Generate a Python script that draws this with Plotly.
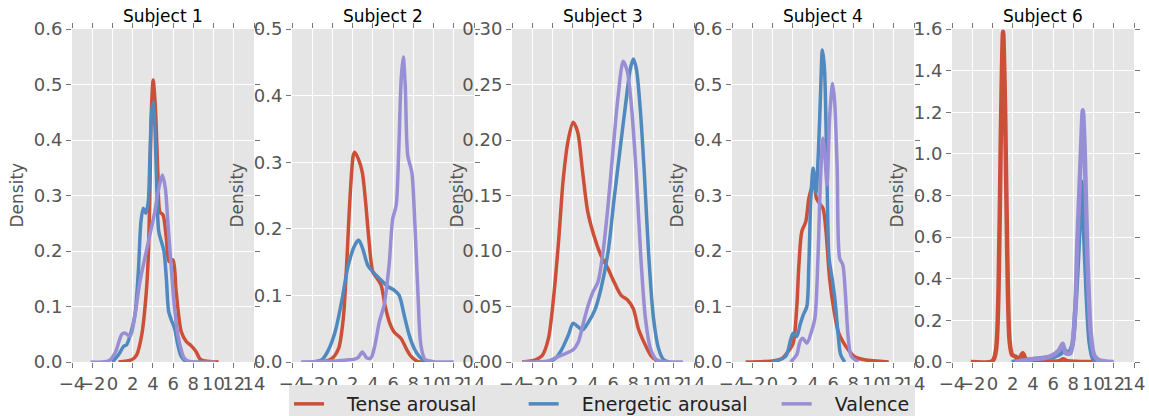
import plotly.graph_objects as go

# ---------------- data ----------------
subjects = ["Subject 1", "Subject 2", "Subject 3", "Subject 4", "Subject 6"]
series_names = ["Tense arousal", "Energetic arousal", "Valence"]
series_colors = ["#CC4F38", "#4F89BF", "#988ED5"]

x_tick_vals = [-4, -2, 0, 2, 4, 6, 8, 10, 12, 14]
x_tick_text = ["\u22124", "\u22122", "0", "2", "4", "6", "8", "10", "12", "14"]

y_max = [0.6, 0.5, 0.30, 0.6, 1.6]
y_step = [0.1, 0.1, 0.05, 0.1, 0.2]
y_fmt = [".1f", ".1f", ".2f", ".1f", ".1f"]

# Subject 1
s1_tense_x = [0.6, 1.9, 2.4, 2.9, 3.3, 3.54, 3.7, 3.86, 4.03, 4.25, 4.5, 4.7, 5.0, 5.33, 5.6, 5.98, 6.3, 6.8, 7.3, 7.8, 8.26, 8.75, 10.5]
s1_tense_y = [0, 0.004, 0.013, 0.049, 0.115, 0.187, 0.307, 0.457, 0.508, 0.457, 0.337, 0.27, 0.265, 0.223, 0.181, 0.184, 0.127, 0.055, 0.037, 0.029, 0.019, 0.004, 0]
s1_energetic_x = [0.0, 0.6, 1.1, 1.4, 1.9, 2.23, 2.56, 2.82, 3.05, 3.3, 3.54, 3.7, 3.86, 4.03, 4.19, 4.35, 4.58, 4.84, 5.1, 5.33, 5.56, 5.82, 6.14, 6.47, 6.8, 7.3, 8.8]
s1_energetic_y = [0, 0.013, 0.028, 0.031, 0.058, 0.085, 0.163, 0.253, 0.277, 0.268, 0.289, 0.367, 0.445, 0.469, 0.427, 0.337, 0.235, 0.217, 0.199, 0.151, 0.091, 0.076, 0.061, 0.031, 0.01, 0.001, 0]
s1_valence_x = [-2.16, -0.37, 0.26, 0.93, 1.26, 1.75, 2.23, 2.72, 3.2, 3.7, 4.19, 4.58, 4.94, 5.23, 5.5, 5.82, 6.14, 6.47, 6.8, 7.1, 7.6, 10.2]
s1_valence_y = [0, 0.002, 0.016, 0.05, 0.052, 0.046, 0.085, 0.145, 0.187, 0.229, 0.271, 0.313, 0.337, 0.313, 0.247, 0.169, 0.097, 0.049, 0.022, 0.007, 0.001, 0]

# Subject 2
s2_tense_x = [-1.0, -0.07, 0.6, 1.07, 1.4, 1.73, 2.06, 2.2, 2.56, 2.95, 3.28, 3.6, 4.0, 4.44, 4.82, 5.2, 5.63, 6.1, 6.8, 7.3, 7.8, 8.4, 9.0]
s2_tense_y = [0, 0.005, 0.02, 0.065, 0.145, 0.245, 0.31, 0.315, 0.305, 0.285, 0.24, 0.185, 0.135, 0.125, 0.115, 0.085, 0.06, 0.045, 0.035, 0.02, 0.008, 0.001, 0]
s2_energetic_x = [-2.0, -1.0, -0.4, 0.26, 0.9, 1.56, 2.2, 2.6, 3.0, 3.5, 4.15, 4.8, 5.5, 6.1, 6.6, 7.1, 7.6, 8.1, 8.6, 9.25]
s2_energetic_y = [0, 0.004, 0.018, 0.045, 0.09, 0.145, 0.175, 0.183, 0.17, 0.145, 0.133, 0.123, 0.113, 0.108, 0.1, 0.07, 0.04, 0.02, 0.008, 0]
s2_valence_x = [-3.1, 0.6, 1.4, 2.1, 2.56, 2.95, 3.4, 3.8, 4.2, 4.63, 5.1, 5.6, 5.96, 6.3, 6.55, 6.8, 7.0, 7.2, 7.45, 7.85, 8.1, 8.45, 8.75, 9.15, 10.05, 12.0]
s2_valence_y = [0, 0.002, 0.003, 0.004, 0.007, 0.015, 0.006, 0.006, 0.025, 0.06, 0.085, 0.145, 0.215, 0.235, 0.315, 0.425, 0.458, 0.415, 0.31, 0.285, 0.225, 0.105, 0.025, 0.004, 0.0005, 0]

# Subject 3
s3_tense_x = [-3.0, -1.67, -1.0, -0.4, 0.1, 0.6, 1.07, 1.56, 2.05, 2.5, 2.95, 3.5, 4.2, 4.8, 5.5, 6.1, 6.8, 7.4, 8.0, 8.5, 9.2, 9.8, 10.5]
s3_tense_y = [0, 0.002, 0.006, 0.021, 0.057, 0.108, 0.165, 0.2, 0.216, 0.207, 0.174, 0.135, 0.111, 0.096, 0.084, 0.072, 0.06, 0.056, 0.048, 0.03, 0.015, 0.005, 0]
s3_energetic_x = [-0.4, 0.26, 0.9, 1.56, 2.05, 2.5, 3.0, 3.5, 4.2, 4.8, 5.5, 6.1, 6.8, 7.3, 7.7, 8.0, 8.3, 8.7, 9.1, 9.5, 10.0, 10.5, 11.0, 11.6]
s3_energetic_y = [0, 0.003, 0.011, 0.024, 0.035, 0.032, 0.029, 0.035, 0.047, 0.066, 0.099, 0.147, 0.2, 0.237, 0.264, 0.273, 0.264, 0.226, 0.168, 0.099, 0.039, 0.012, 0.002, 0]
s3_valence_x = [-3.0, -0.4, 0.6, 1.4, 2.05, 2.56, 3.0, 3.5, 4.0, 4.5, 5.0, 5.5, 6.0, 6.5, 7.0, 7.4, 7.8, 8.3, 8.75, 9.2, 9.7, 10.3, 12.9]
s3_valence_y = [0, 0.001, 0.005, 0.008, 0.011, 0.018, 0.033, 0.05, 0.063, 0.072, 0.099, 0.141, 0.192, 0.24, 0.271, 0.262, 0.232, 0.168, 0.093, 0.039, 0.012, 0.002, 0]

# Subject 4
s4_tense_x = [-2.65, 0.0, 0.9, 1.56, 2.05, 2.4, 2.6, 2.9, 3.3, 3.6, 3.86, 4.1, 4.35, 4.65, 5.0, 5.3, 5.65, 6.05, 6.5, 6.95, 7.5, 8.1, 9.1, 11.5]
s4_tense_y = [0, 0.002, 0.006, 0.019, 0.034, 0.097, 0.169, 0.235, 0.253, 0.295, 0.313, 0.325, 0.295, 0.286, 0.277, 0.235, 0.151, 0.097, 0.055, 0.037, 0.022, 0.01, 0.004, 0]
s4_energetic_x = [0.0, 1.3, 1.8, 2.05, 2.4, 2.73, 3.05, 3.4, 3.6, 3.8, 4.03, 4.3, 4.55, 4.75, 4.94, 5.14, 5.37, 5.6, 5.9, 6.2, 6.5, 6.75, 7.15]
s4_energetic_y = [0, 0.01, 0.04, 0.052, 0.046, 0.067, 0.085, 0.1, 0.175, 0.295, 0.349, 0.305, 0.38, 0.48, 0.562, 0.53, 0.36, 0.187, 0.151, 0.109, 0.049, 0.013, 0]
s4_valence_x = [1.8, 2.4, 2.73, 3.0, 3.4, 3.86, 4.2, 4.5, 4.77, 5.0, 5.2, 5.4, 5.65, 5.95, 6.15, 6.4, 6.65, 6.96, 7.2, 7.5, 7.8, 8.5]
s4_valence_y = [0, 0.013, 0.037, 0.043, 0.034, 0.055, 0.079, 0.187, 0.337, 0.403, 0.367, 0.319, 0.439, 0.502, 0.469, 0.349, 0.187, 0.175, 0.127, 0.043, 0.01, 0]

# Subject 6
s6_tense_x = [-2.15, 0.0, 0.33, 0.6, 0.82, 1.05, 1.25, 1.47, 1.7, 1.95, 2.3, 2.6, 3.0, 3.3, 3.7, 5.5, 6.6, 7.0, 7.4, 10.0]
s6_tense_y = [0, 0.005, 0.05, 0.34, 1.06, 1.587, 1.22, 0.5, 0.1, 0.034, 0.026, 0.013, 0.042, 0.013, 0.005, 0.003, 0.004, 0.013, 0.004, 0]
s6_energetic_x = [1.9, 3.9, 5.2, 6.14, 6.8, 7.1, 7.5, 7.9, 8.2, 8.55, 8.8, 9.03, 9.3, 9.6, 9.93, 10.3]
s6_energetic_y = [0, 0.013, 0.02, 0.026, 0.042, 0.058, 0.042, 0.082, 0.258, 0.578, 0.867, 0.658, 0.338, 0.098, 0.018, 0]
s6_valence_x = [2.2, 3.9, 5.2, 6.0, 6.6, 6.95, 7.25, 7.7, 8.1, 8.4, 8.75, 8.94, 9.13, 9.4, 9.72, 10.05, 10.5, 12.0]
s6_valence_y = [0, 0.013, 0.02, 0.034, 0.058, 0.088, 0.042, 0.042, 0.178, 0.578, 1.01, 1.21, 1.01, 0.498, 0.146, 0.034, 0.01, 0]

panel_series = [
    [(s1_tense_x, s1_tense_y), (s1_energetic_x, s1_energetic_y), (s1_valence_x, s1_valence_y)],
    [(s2_tense_x, s2_tense_y), (s2_energetic_x, s2_energetic_y), (s2_valence_x, s2_valence_y)],
    [(s3_tense_x, s3_tense_y), (s3_energetic_x, s3_energetic_y), (s3_valence_x, s3_valence_y)],
    [(s4_tense_x, s4_tense_y), (s4_energetic_x, s4_energetic_y), (s4_valence_x, s4_valence_y)],
    [(s6_tense_x, s6_tense_y), (s6_energetic_x, s6_energetic_y), (s6_valence_x, s6_valence_y)],
]

# ---------------- layout / styling ----------------
W, H = 1149, 416
ML, MR, MT, MB = 72, 15, 29, 54
PW = W - ML - MR  # 1062
PANEL_W, PANEL_STEP = 182, 220
FONT = "DejaVu Sans"
NB = "\u00a0"
legend_labels = [NB * 3 + series_names[0] + NB * 7,
                 NB * 3 + series_names[1] + NB * 4,
                 NB * 3 + series_names[2]]

fig = go.Figure()
layout = dict(
    width=W, height=H,
    margin=dict(l=ML, r=MR, t=MT, b=MB, autoexpand=False),
    paper_bgcolor="white",
    plot_bgcolor="#E5E5E5",
    template="none",
    font=dict(family=FONT, size=17, color="#555555"),
    showlegend=True,
    legend=dict(orientation="h", x=(289 - ML) / PW, xanchor="left",
                y=(H - MB - 385) / (H - MT - MB), yanchor="top",
                bgcolor="#E5E5E5", borderwidth=0,
                font=dict(family=FONT, size=19, color="#222222")),
)
annotations = []
for i in range(5):
    k = "" if i == 0 else str(i + 1)
    d0 = (PANEL_STEP * i) / PW
    d1 = (PANEL_STEP * i + PANEL_W) / PW
    lw = 4.5 if i == 4 else 3.5
    for j, (xs, ys) in enumerate(panel_series[i]):
        fig.add_trace(go.Scatter(
            x=xs, y=ys, mode="lines",
            name=legend_labels[j], legendgroup=series_names[j],
            showlegend=(i == 0),
            line=dict(color=series_colors[j], width=lw, shape="spline", smoothing=0.8),
            xaxis="x" + k, yaxis="y" + k, hoverinfo="skip",
        ))
    layout["xaxis" + k] = dict(
        domain=[d0, d1], anchor="y" + k, range=[-4, 14],
        tickmode="array", tickvals=x_tick_vals, ticktext=x_tick_text, tickangle=0,
        ticks="outside", ticklen=5, tickwidth=1, tickcolor="#777777", mirror="ticks",
        showline=False, showgrid=True, gridcolor="white", gridwidth=1, zeroline=False,
        tickfont=dict(family=FONT, size=18, color="#555555"),
    )
    layout["yaxis" + k] = dict(
        domain=[0, 1], anchor="x" + k, range=[0, y_max[i]],
        tick0=0, dtick=y_step[i], tickformat=y_fmt[i],
        ticks="outside", ticklen=5, tickwidth=1, tickcolor="#777777", mirror="ticks",
        showline=False, showgrid=True, gridcolor="white", gridwidth=1, zeroline=False,
        tickfont=dict(family=FONT, size=18, color="#555555"),
    )
    annotations.append(dict(
        text=subjects[i], xref="paper", yref="paper", x=(d0 + d1) / 2, y=1,
        xanchor="center", yanchor="bottom", yshift=1, showarrow=False,
        font=dict(family=FONT, size=17, color="black"),
    ))
    annotations.append(dict(
        text="Density", xref="paper", yref="paper", x=d0, y=0.5, xshift=-56,
        xanchor="center", yanchor="middle", textangle=-90, showarrow=False,
        font=dict(family=FONT, size=17, color="#555555"),
    ))
layout["annotations"] = annotations
fig.update_layout(**layout)
fig.write_html("out.html")
